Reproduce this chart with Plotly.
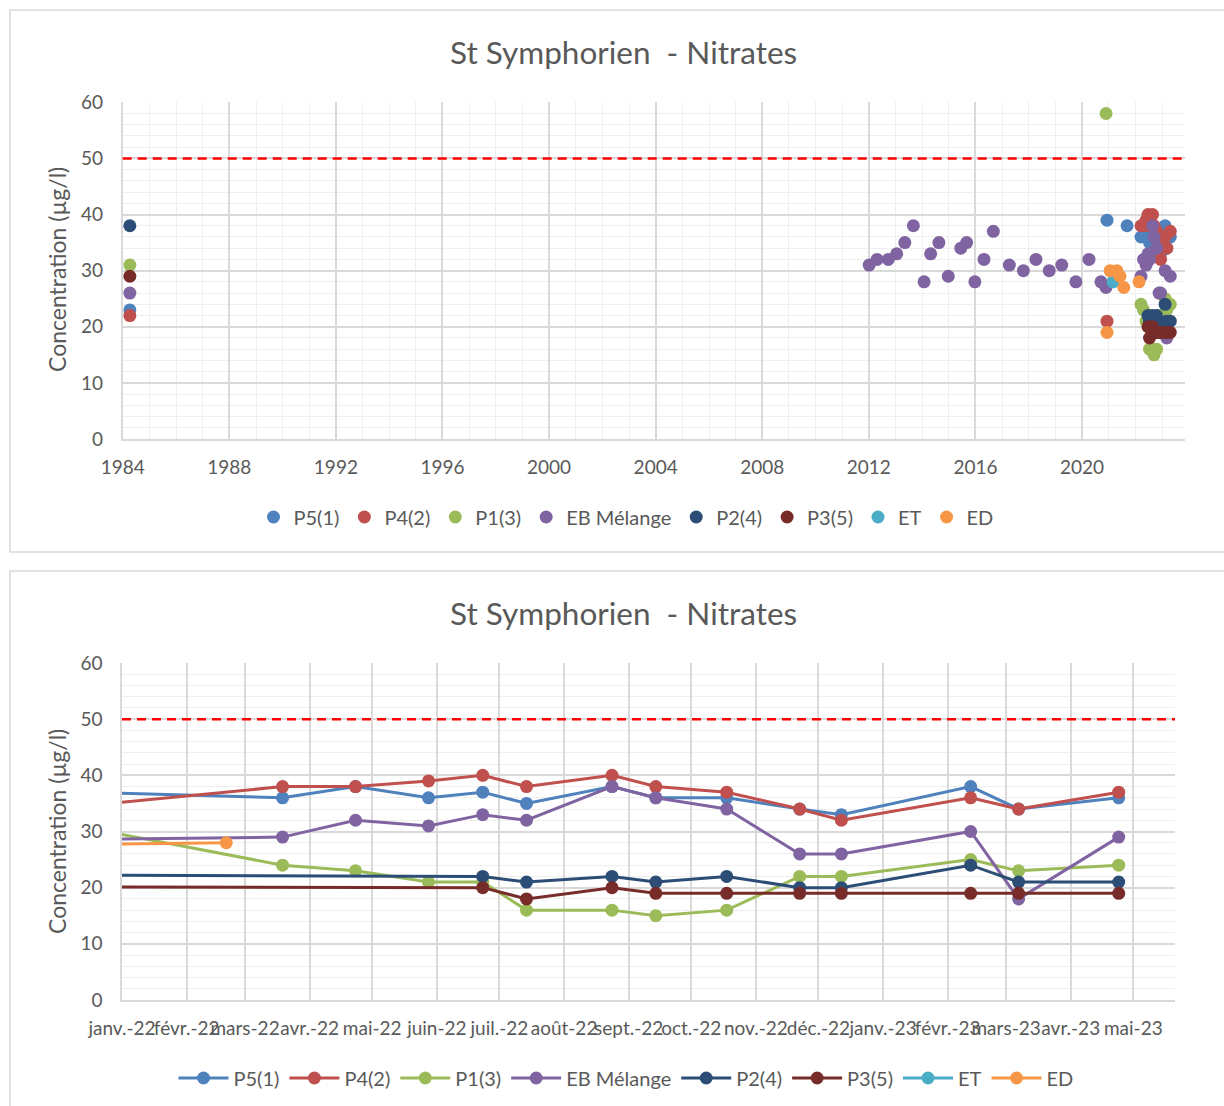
import plotly.graph_objects as go

# ---------------- data ----------------
TITLE = "St Symphorien  - Nitrates"
Y_TITLE = "Concentration (µg/l)"
LIMIT = 50

SAMPLE_DATES = ["2022-03-19", "2022-04-23", "2022-05-28", "2022-06-23", "2022-07-14",
                "2022-08-24", "2022-09-14", "2022-10-18", "2022-11-22", "2022-12-12",
                "2023-02-12", "2023-03-07", "2023-04-24"]

P5_DATES = ["1984-04-08", "2020-12-08", "2021-09-09"] + SAMPLE_DATES
P5_VALUES = [23, 39, 38, 36, 38, 36, 37, 35, 38, 36, 36, 34, 33, 38, 34, 36]

P4_DATES = ["1984-04-08", "2020-12-08"] + SAMPLE_DATES
P4_VALUES = [22, 21, 38, 38, 39, 40, 38, 40, 38, 37, 34, 32, 36, 34, 37]

P1_DATES = ["1984-04-08", "2020-11-25"] + SAMPLE_DATES
P1_VALUES = [31, 58, 24, 23, 21, 21, 16, 16, 15, 16, 22, 22, 25, 23, 24]

EB_DATES = ["1984-04-08",
            "2012-01-05", "2012-04-23", "2012-09-24", "2013-01-16", "2013-05-08",
            "2013-09-02", "2014-01-27", "2014-04-27", "2014-08-18", "2014-12-24",
            "2015-06-14", "2015-09-02", "2015-12-24", "2016-04-27", "2016-09-02",
            "2017-04-09", "2017-10-19", "2018-04-09", "2018-10-08", "2019-03-29",
            "2019-10-08", "2020-04-05", "2020-09-16", "2020-11-24"] + SAMPLE_DATES
EB_VALUES = [26,
             31, 32, 32, 33, 35, 38, 28, 33, 35, 29, 34, 35, 28, 32, 37,
             31, 30, 32, 30, 31, 28, 32, 28, 27,
             29, 32, 31, 33, 32, 38, 36, 34, 26, 26, 30, 18, 29]

P2_DATES = ["1984-04-08"] + SAMPLE_DATES[3:]
P2_VALUES = [38, 22, 21, 22, 21, 22, 20, 20, 24, 21, 21]

P3_DATES = ["1984-04-08"] + SAMPLE_DATES[3:]
P3_VALUES = [29, 20, 18, 20, 19, 19, 19, 19, 19, 19, 19]

ET_DATES = ["2021-03-01"]
ET_VALUES = [28]

ED_DATES = ["2020-12-08", "2021-01-20", "2021-04-22", "2021-06-03", "2021-07-26", "2022-02-20"]
ED_VALUES = [19, 30, 30, 29, 27, 28]

SERIES_NAMES = ["P5(1)", "P4(2)", "P1(3)", "EB Mélange", "P2(4)", "P3(5)", "ET", "ED"]
SERIES_DATES = [P5_DATES, P4_DATES, P1_DATES, EB_DATES, P2_DATES, P3_DATES, ET_DATES, ED_DATES]
SERIES_VALUES = [P5_VALUES, P4_VALUES, P1_VALUES, EB_VALUES, P2_VALUES, P3_VALUES, ET_VALUES, ED_VALUES]
SERIES_COLORS = ["#4F81BD", "#C0504D", "#9BBB59", "#8064A2", "#2C4D75", "#772C2A", "#4BACC6", "#F79646"]

MONTH_TICKS = ["2022-01-01", "2022-02-01", "2022-03-01", "2022-04-01", "2022-05-01", "2022-06-01",
               "2022-07-01", "2022-08-01", "2022-09-01", "2022-10-01", "2022-11-01", "2022-12-01",
               "2023-01-01", "2023-02-01", "2023-03-01", "2023-04-01", "2023-05-01"]
MONTH_LABELS = ["janv.-22", "févr.-22", "mars-22", "avr.-22", "mai-22", "juin-22", "juil.-22",
                "août-22", "sept.-22", "oct.-22", "nov.-22", "déc.-22", "janv.-23", "févr.-23",
                "mars-23", "avr.-23", "mai-23"]

# ---------------- figure ----------------
W, H = 1224, 1106
FONT = "Lato"
TXT = "#595959"
GRID = "#d9d9d9"
MINOR = "#efefef"

def px(x):
    return x / W

def py(y):
    return 1 - y / H

fig = go.Figure()
for name, d, v, c in zip(SERIES_NAMES, SERIES_DATES, SERIES_VALUES, SERIES_COLORS):
    fig.add_trace(go.Scatter(x=d, y=v, name=name, mode="markers",
                             marker=dict(color=c, size=13),
                             xaxis="x", yaxis="y", legend="legend"))
for name, d, v, c in zip(SERIES_NAMES, SERIES_DATES, SERIES_VALUES, SERIES_COLORS):
    fig.add_trace(go.Scatter(x=d, y=v, name=name, mode="lines+markers",
                             line=dict(color=c, width=3),
                             marker=dict(color=c, size=13),
                             xaxis="x2", yaxis="y2", legend="legend2"))

common_y = dict(range=[0, 60], dtick=10, tick0=0, showgrid=True, gridcolor=GRID, gridwidth=1.5,
                zeroline=False, showline=True, linecolor=GRID, linewidth=1.5,
                minor=dict(dtick=2, tick0=0, showgrid=True, gridcolor=MINOR, gridwidth=1),
                tickfont=dict(family=FONT, size=19, color=TXT), ticklabelstandoff=14,
                automargin=False, fixedrange=True)

fig.update_layout(
    width=W, height=H, margin=dict(l=0, r=0, t=0, b=0, pad=0, autoexpand=False),
    paper_bgcolor="white", plot_bgcolor="white",
    font=dict(family=FONT, color=TXT),
    xaxis=dict(type="date", domain=[px(122.7), px(1185)],
               range=["1984-01-01", "2023-11-12"],
               tickmode="linear", tick0="1984-01-01", dtick="M48", tickformat="%Y",
               showgrid=True, gridcolor=GRID, gridwidth=1.5,
               minor=dict(dtick="M12", tick0="1984-01-01", showgrid=True, gridcolor=MINOR, gridwidth=1),
               showline=True, linecolor=GRID, linewidth=1.5, zeroline=False,
               tickfont=dict(family=FONT, size=19, color=TXT), ticklabelstandoff=10,
               tickangle=0, automargin=False, anchor="y"),
    yaxis=dict(domain=[py(439), py(102.3)], anchor="x", **common_y),
    xaxis2=dict(type="date", domain=[px(122), px(1175)],
                range=["2022-01-01", "2023-05-21"],
                tickmode="array", tickvals=MONTH_TICKS, ticktext=MONTH_LABELS,
                showgrid=True, gridcolor=GRID, gridwidth=1.5,
                showline=True, linecolor=GRID, linewidth=1.5, zeroline=False,
                tickfont=dict(family=FONT, size=19, color=TXT), ticklabelstandoff=10,
                tickangle=0, automargin=False, anchor="y2"),
    yaxis2=dict(domain=[py(1000), py(663)], anchor="x2", **common_y),
    legend=dict(orientation="h", x=px(626), xanchor="center", y=py(517), yanchor="middle",
                font=dict(family=FONT, size=20, color=TXT), bgcolor="rgba(0,0,0,0)",
                itemwidth=30),
    legend2=dict(orientation="h", x=px(626), xanchor="center", y=py(1078), yanchor="middle",
                 font=dict(family=FONT, size=20, color=TXT), bgcolor="rgba(0,0,0,0)",
                 itemwidth=50),
    showlegend=True,
)

# panel borders
fig.add_shape(type="rect", xref="paper", yref="paper", x0=px(10), x1=1.05, y0=py(552), y1=py(10),
              line=dict(color="#d9d9d9", width=1.5), layer="below")
fig.add_shape(type="rect", xref="paper", yref="paper", x0=px(10), x1=1.05, y0=-0.05, y1=py(571),
              line=dict(color="#d9d9d9", width=1.5), layer="below")

# limit lines
for xa, ya in (("x", "y"), ("x2", "y2")):
    fig.add_shape(type="line", xref=f"{xa} domain", yref=ya, x0=0, x1=1, y0=LIMIT, y1=LIMIT,
                  line=dict(color="#FF0000", width=2.5, dash="9px,6px"))

# titles
for ty, ay in ((52, 270), (613, 832)):
    fig.add_annotation(text=TITLE, xref="paper", yref="paper", x=px(623), y=py(ty),
                       xanchor="center", yanchor="middle", showarrow=False,
                       font=dict(family=FONT, size=31.5, color=TXT))
    fig.add_annotation(text=Y_TITLE, xref="paper", yref="paper", x=px(57), y=py(ay),
                       xanchor="center", yanchor="middle", showarrow=False, textangle=-90,
                       font=dict(family=FONT, size=23, color=TXT))

fig.write_html("out.html")
